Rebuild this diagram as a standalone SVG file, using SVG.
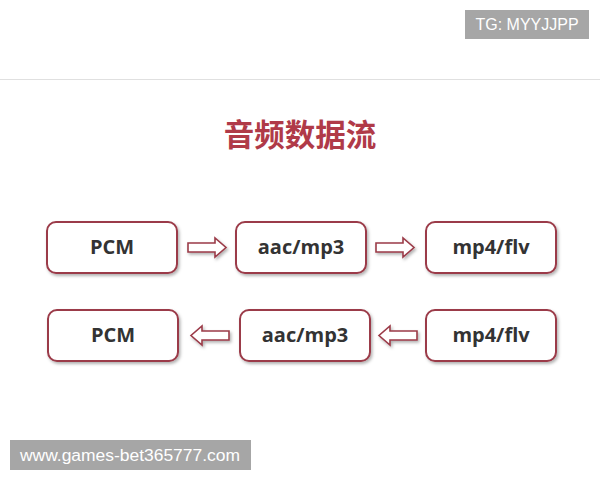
<svg xmlns="http://www.w3.org/2000/svg" width="600" height="480" viewBox="0 0 600 480">
<defs>
<filter id="sh" x="-10%" y="-20%" width="130%" height="150%">
<feDropShadow dx="1.5" dy="2" stdDeviation="1.5" flood-color="#000" flood-opacity="0.3"/>
</filter>
</defs>
<style>
.box{fill:#fff;stroke:#9b3b48;stroke-width:2;filter:url(#sh)}
.lbl{font-family:"Open Sans","Liberation Sans",sans-serif;font-weight:bold;font-size:20px;fill:#333;text-anchor:middle}
.arr{fill:#fff;stroke:#9b3b48;stroke-width:1.6;stroke-linejoin:miter;filter:url(#sh)}
.wm{fill:#a6a6a6}
.wmt{font-family:"Liberation Sans",sans-serif;font-size:16px;fill:#fff}
</style>
<rect width="600" height="480" fill="#fff"/>
<line x1="0" y1="79.5" x2="600" y2="79.5" stroke="#e0e0e0" stroke-width="1"/>
<rect class="wm" x="465" y="10" width="124" height="29"/>
<text class="wmt" x="527" y="30" text-anchor="middle">TG: MYYJJPP</text>
<text x="300" y="146" font-family="'Noto Sans CJK SC',sans-serif" font-weight="bold" font-size="30.5" fill="#b03a48" text-anchor="middle">音频数据流</text>
<g id="n1"><rect class="box" x="47" y="222" width="130" height="51" rx="9"/><text class="lbl" x="112" y="254">PCM</text></g>
<g id="n2"><rect class="box" x="236" y="222" width="130" height="51" rx="9"/><text class="lbl" x="301" y="254">aac/mp3</text></g>
<g id="n3"><rect class="box" x="426" y="222" width="130" height="51" rx="9"/><text class="lbl" x="491" y="254">mp4/flv</text></g>
<g id="n4"><rect class="box" x="48" y="310" width="130" height="51" rx="9"/><text class="lbl" x="113" y="342">PCM</text></g>
<g id="n5"><rect class="box" x="240" y="310" width="130" height="51" rx="9"/><text class="lbl" x="305" y="342">aac/mp3</text></g>
<g id="n6"><rect class="box" x="426" y="310" width="130" height="51" rx="9"/><text class="lbl" x="491" y="342">mp4/flv</text></g>
<g id="connectors">
<polygon class="arr" points="188,243 215,243 215,238 226,247.5 215,257 215,252 188,252"/>
<polygon class="arr" points="376,243 403,243 403,238 414,247.5 403,257 403,252 376,252"/>
<polygon class="arr" points="229,331 202,331 202,326 191,335.5 202,345 202,340 229,340"/>
<polygon class="arr" points="417,331 390,331 390,326 379,335.5 390,345 390,340 417,340"/>
</g>
<rect class="wm" x="10" y="440" width="241" height="30"/>
<text class="wmt" x="20" y="461" textLength="220" lengthAdjust="spacingAndGlyphs">www.games-bet365777.com</text>
</svg>
